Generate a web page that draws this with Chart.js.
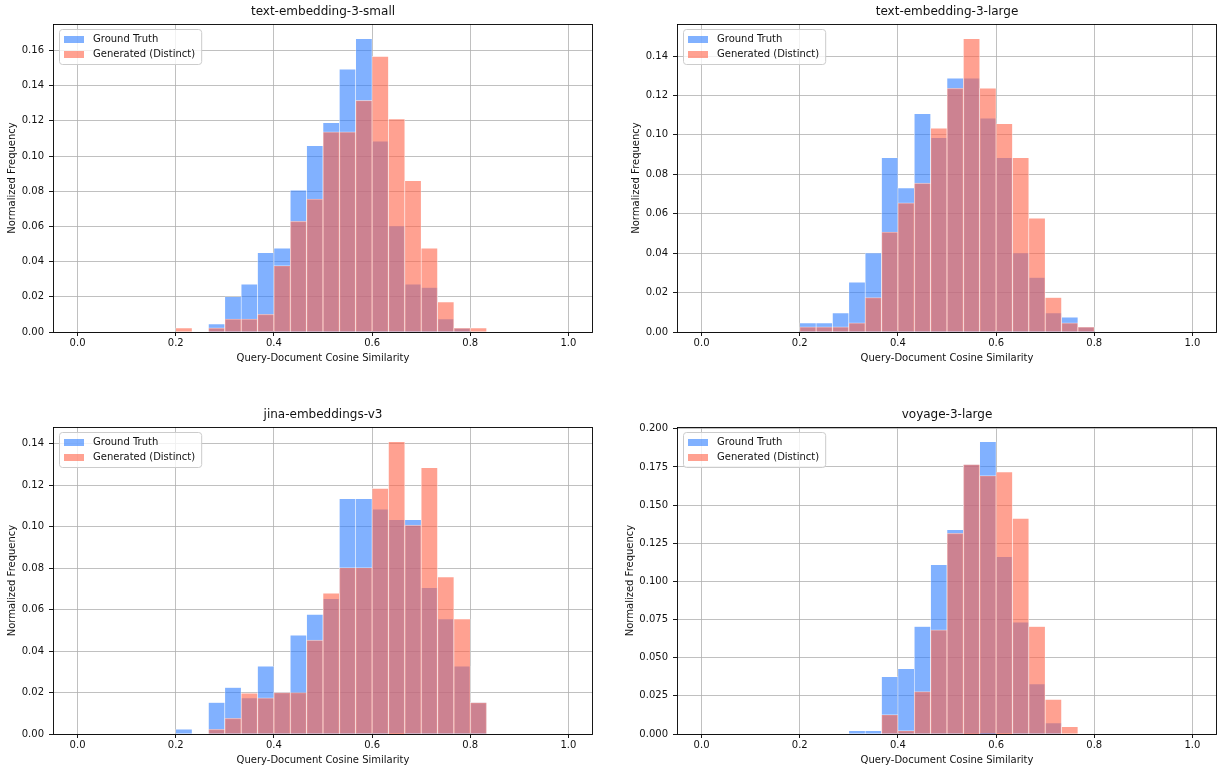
<!DOCTYPE html>
<html>
<head>
<meta charset="utf-8">
<script src="https://cdn.jsdelivr.net/npm/chart.js@4.4.1/dist/chart.umd.min.js"></script>
<style>
    body { margin: 0; background: #fff; width: 1224px; height: 774px; overflow: hidden; position: relative; }
    .panel { position: absolute; }
</style>
</head>
<body>
<div class="panel" style="left:0;top:0;width:612px;height:372px"><canvas id="chartSmall"></canvas></div>
<div class="panel" style="left:612px;top:0;width:612px;height:372px"><canvas id="chartLarge"></canvas></div>
<div class="panel" style="left:0;top:403px;width:612px;height:371px"><canvas id="chartJina"></canvas></div>
<div class="panel" style="left:612px;top:403px;width:612px;height:371px"><canvas id="chartVoyage"></canvas></div>
<script>
// 30 bins over [0, 1]
const binCount = 30;
const binCenters = Array.from({ length: binCount }, (_, i) => (i + 0.5) / binCount);

// text-embedding-3-small
const smallTruth = [0, 0, 0, 0, 0, 0, 0, 0, 0.0046, 0.0200, 0.0272, 0.0450, 0.0476, 0.0806, 0.1059,
    0.1189, 0.1493, 0.1667, 0.1084, 0.0602, 0.0272, 0.0253, 0.0074, 0.0023, 0, 0, 0, 0, 0, 0];
const smallGen = [0, 0, 0, 0, 0, 0, 0.0023, 0, 0.0023, 0.0074, 0.0074, 0.0101, 0.0377, 0.0629, 0.0756,
    0.1137, 0.1137, 0.1316, 0.1566, 0.1211, 0.0859, 0.0476, 0.0171, 0.0023, 0.0023, 0, 0, 0, 0, 0];

// text-embedding-3-large
const largeTruth = [0, 0, 0, 0, 0, 0, 0.0046, 0.0046, 0.0097, 0.0252, 0.0401, 0.0884, 0.0731, 0.1107, 0.0985,
    0.1287, 0.1287, 0.1085, 0.0884, 0.0401, 0.0276, 0.0097, 0.0075, 0.0026, 0, 0, 0, 0, 0, 0];
const largeGen = [0, 0, 0, 0, 0, 0, 0.0026, 0.0026, 0.0026, 0.0046, 0.0175, 0.0507, 0.0655, 0.0755, 0.1034,
    0.1236, 0.1488, 0.1236, 0.1056, 0.0884, 0.0577, 0.0175, 0.0046, 0.0026, 0, 0, 0, 0, 0, 0];

// jina-embeddings-v3
const jinaTruth = [0, 0, 0, 0, 0, 0, 0.0023, 0, 0.0152, 0.0224, 0.0174, 0.0327, 0.0200, 0.0477, 0.0577,
    0.0653, 0.1135, 0.1135, 0.1085, 0.1034, 0.1034, 0.0706, 0.0555, 0.0327, 0.0152, 0, 0, 0, 0, 0];
const jinaGen = [0, 0, 0, 0, 0, 0, 0, 0, 0.0023, 0.0076, 0.0197, 0.0174, 0.0200, 0.0200, 0.0453,
    0.0679, 0.0803, 0.0803, 0.1185, 0.1411, 0.1008, 0.1285, 0.0758, 0.0555, 0.0152, 0, 0, 0, 0, 0];

// voyage-3-large
const voyageTruth = [0, 0, 0, 0, 0, 0, 0, 0, 0, 0.0022, 0.0022, 0.0376, 0.0427, 0.0704, 0.1109,
    0.1339, 0.1767, 0.1916, 0.1161, 0.0733, 0.0328, 0.0072, 0, 0, 0, 0, 0, 0, 0, 0];
const voyageGen = [0, 0, 0, 0, 0, 0, 0, 0, 0, 0, 0, 0.0127, 0.0022, 0.0278, 0.0682,
    0.1315, 0.1767, 0.1693, 0.1717, 0.1413, 0.0704, 0.0227, 0.0048, 0, 0, 0, 0, 0, 0, 0];

// tick labels
const xTicks = [0, 0.2, 0.4, 0.6, 0.8, 1.0];
const yTicksSmall = [0, 0.02, 0.04, 0.06, 0.08, 0.10, 0.12, 0.14, 0.16];
const yTicksLarge = [0, 0.02, 0.04, 0.06, 0.08, 0.10, 0.12, 0.14];
const yTicksJina = [0, 0.02, 0.04, 0.06, 0.08, 0.10, 0.12, 0.14];
const yTicksVoyage = [0, 0.025, 0.05, 0.075, 0.1, 0.125, 0.15, 0.175, 0.2];

const truthColor = 'rgba(45, 125, 255, 0.6)';
const genColor = 'rgba(255, 99, 71, 0.6)';
const edgeColor = 'rgba(255, 255, 255, 0.6)';
const textColor = '#111';

Chart.defaults.font.family = "'DejaVu Sans', sans-serif";
Chart.defaults.font.size = 10;
Chart.defaults.color = textColor;

// frame + matplotlib style legend box
const frameLegend = {
    id: 'frameLegend',
    afterDatasetsDraw(chart) {
        const { ctx, chartArea } = chart;
        ctx.save();
        ctx.strokeStyle = '#000';
        ctx.lineWidth = 0.9;
        ctx.strokeRect(chartArea.left + 0.5, chartArea.top + 0.5,
            chartArea.right - chartArea.left - 1, chartArea.bottom - chartArea.top);

        const sets = chart.data.datasets;
        ctx.font = "10px 'DejaVu Sans'";
        const textW = Math.max(...sets.map(d => ctx.measureText(d.label).width));
        const x = chartArea.left + 6, y = chartArea.top + 5;
        const w = 34 + textW + 6, h = 35;
        ctx.beginPath();
        ctx.roundRect(x + 0.5, y + 0.5, w, h, 3);
        ctx.fillStyle = 'rgba(255,255,255,0.8)';
        ctx.fill();
        ctx.strokeStyle = '#cccccc';
        ctx.lineWidth = 1;
        ctx.stroke();
        sets.forEach((d, i) => {
            const cy = y + 10.5 + i * 15;
            ctx.fillStyle = d.backgroundColor;
            ctx.fillRect(x + 5, cy - 3.5, 20, 7);
            ctx.fillStyle = textColor;
            ctx.textBaseline = 'middle';
            ctx.textAlign = 'left';
            ctx.fillText(d.label, x + 34, cy);
        });
        ctx.restore();
    }
};

// yTitlePad: distance of the rotated y label from the canvas edge
function makeHist(id, title, truth, gen, yTicks, decimals, side, yTitlePad) {
    const yMax = Math.max(...truth, ...gen) * 1.05;
    const left = side === 'left';
    new Chart(document.getElementById(id), {
        type: 'bar',
        data: {
            datasets: [{
                label: 'Ground Truth',
                data: binCenters.map((x, i) => ({ x: x, y: truth[i] })),
                backgroundColor: truthColor,
                borderColor: edgeColor,
                borderWidth: 0.6,
                grouped: false,
                order: 1
            }, {
                label: 'Generated (Distinct)',
                data: binCenters.map((x, i) => ({ x: x, y: gen[i] })),
                backgroundColor: genColor,
                borderColor: edgeColor,
                borderWidth: 0.6,
                grouped: false,
                order: 0
            }]
        },
        options: {
            responsive: true,
            maintainAspectRatio: false,
            animation: false,
            barPercentage: 1,
            categoryPercentage: 1,
            layout: { padding: { left: 0, right: left ? 19 : 7, top: 0, bottom: 0 } },
            plugins: {
                legend: { display: false },
                tooltip: { enabled: false },
                title: {
                    display: true,
                    text: title,
                    fullSize: false,
                    color: textColor,
                    font: { size: 12, weight: 'normal', lineHeight: 1.25 },
                    padding: { top: 4, bottom: 5 }
                }
            },
            scales: {
                x: {
                    type: 'linear',
                    min: -0.05,
                    max: 1.05,
                    offset: false,
                    afterBuildTicks: s => { s.ticks = xTicks.map(v => ({ value: v })); },
                    afterFit: s => { s.height = 40; },
                    ticks: { padding: 1, maxRotation: 0, callback: v => v.toFixed(1) },
                    grid: { color: '#b0b0b0', lineWidth: 0.8, offset: false, tickColor: '#000', tickLength: 4, tickWidth: 0.9 },
                    border: { display: false },
                    title: { display: true, text: 'Query-Document Cosine Similarity', padding: { top: 0, bottom: 8 } }
                },
                y: {
                    min: 0,
                    max: yMax,
                    afterBuildTicks: s => { s.ticks = yTicks.map(v => ({ value: v })); },
                    afterFit: s => { s.width = left ? 53 : 65; },
                    ticks: { padding: 5, callback: v => v.toFixed(decimals) },
                    grid: { color: '#b0b0b0', lineWidth: 0.8, tickColor: '#000', tickLength: 4, tickWidth: 0.9 },
                    border: { display: false },
                    title: { display: true, text: 'Normalized Frequency', padding: { top: yTitlePad, bottom: 0 } }
                }
            }
        },
        plugins: [frameLegend]
    });
}

makeHist('chartSmall', 'text-embedding-3-small', smallTruth, smallGen, yTicksSmall, 2, 'left', 6);
makeHist('chartLarge', 'text-embedding-3-large', largeTruth, largeGen, yTicksLarge, 2, 'right', 18);
makeHist('chartJina', 'jina-embeddings-v3', jinaTruth, jinaGen, yTicksJina, 2, 'left', 6);
makeHist('chartVoyage', 'voyage-3-large', voyageTruth, voyageGen, yTicksVoyage, 3, 'right', 12);
</script>
</body>
</html>
